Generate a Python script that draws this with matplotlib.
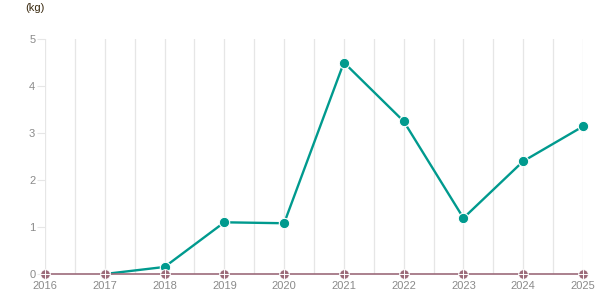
import matplotlib
matplotlib.use("Agg")
import matplotlib.pyplot as plt

years = [2016, 2017, 2018, 2019, 2020, 2021, 2022, 2023, 2024, 2025]
series_a_years = [2017, 2018, 2019, 2020, 2021, 2022, 2023, 2024, 2025]
series_a = [0, 0.15, 1.1, 1.08, 4.5, 3.25, 1.19, 2.4, 3.14]
series_b = [0, 0, 0, 0, 0, 0, 0, 0, 0, 0]
yticks = [0, 1, 2, 3, 4, 5]

plt.rcParams['font.family'] = ['Liberation Sans', 'DejaVu Sans']

fig = plt.figure(figsize=(6.15, 3.05), dpi=100)
ax = fig.add_axes([45/615, 31/305, 538/615, 235/305])

teal = '#009a8e'
mauve = '#9c6b7a'

# vertical grid lines at each year and half-year
for i in range(len(years)):
    ax.axvline(years[i], color='#e6e6e6', lw=0.9, zorder=0)
    if i < len(years) - 1:
        ax.axvline((years[i] + years[i+1]) / 2, color='#e6e6e6', lw=0.9, zorder=0)

ax.plot(series_a_years, series_a, color=teal, lw=1.7, zorder=2, clip_on=False)
ax.plot(series_a_years, series_a, 'o', color=teal, ms=7.5, mec='white', mew=0.8, zorder=3, clip_on=False)

ax.plot(years, series_b, color=mauve, lw=1.2, zorder=4, clip_on=False)
ax.plot(years, series_b, 'o', color=mauve, ms=7, mec='white', mew=0.7, zorder=5, clip_on=False)
ax.plot(years, series_b, '+', color='white', ms=7, mew=0.7, zorder=6, clip_on=False)

ax.set_xlim(2016, 2025)
ax.set_ylim(0, 5)
ax.set_xticks(years)
ax.set_xticklabels([str(y) for y in years])
ax.set_yticks(yticks)
for s in ax.spines.values():
    s.set_visible(False)
ax.tick_params(axis='x', length=0, pad=5, labelsize=8, labelcolor='#8a8a8a')
ax.tick_params(axis='y', length=6, width=0.8, color='#e6e6e6', pad=1, labelsize=8, labelcolor='#8a8a8a')

fig.text(25/615, 1 - 8/305, '(kg)', fontsize=8, color='#3a2a10', va='center', ha='left')

fig.savefig('out.png', dpi=100)
